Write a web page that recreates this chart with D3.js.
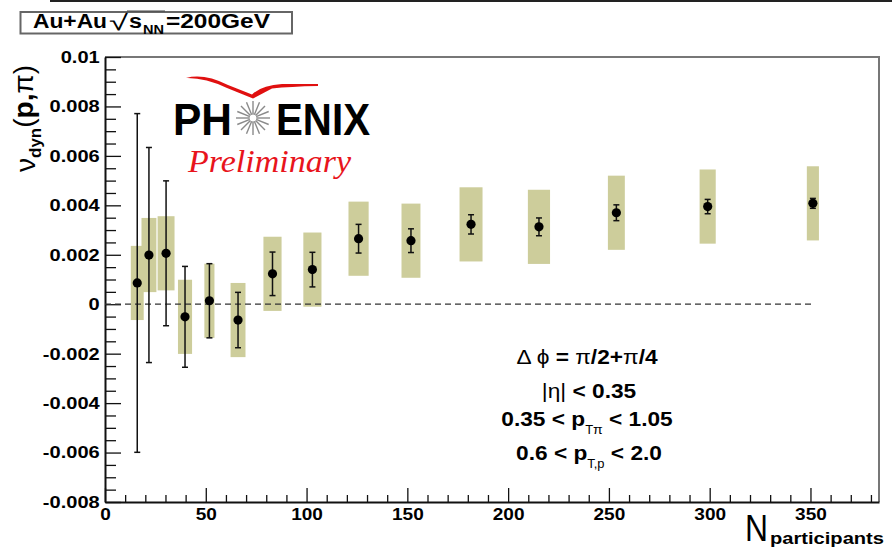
<!DOCTYPE html>
<html>
<head>
<meta charset="utf-8">
<script src="https://cdn.jsdelivr.net/npm/d3@7/dist/d3.min.js"></script>
<style>
  body { margin: 0; background: #fff; }
  svg { display: block; }
</style>
</head>
<body>
<svg id="chart" width="892" height="550"></svg>
<script>
// Centrality bins: mean number of participants and its half-width
const npart    = [16.0, 21.8, 30.3, 39.7, 51.8, 66.0, 83.1, 102.9, 125.8, 151.8, 181.6, 215.3, 253.7, 299.0, 351.2];
const npartErr = [3.2, 3.7, 4.2, 3.5, 2.5, 3.7, 4.5, 4.5, 5.0, 4.7, 5.7, 5.5, 4.2, 4.0, 3.0];
// nu_dyn(p,pi) with statistical and systematic uncertainties
const nuDyn   = [0.00086, 0.00199, 0.00206, -0.00051, 0.00014, -0.00064, 0.00123, 0.00140, 0.00265, 0.00257, 0.00323, 0.00313, 0.00370, 0.00395, 0.00408];
const statErr = [0.00685, 0.00435, 0.00293, 0.00204, 0.00150, 0.00112, 0.00088, 0.00070, 0.00058, 0.00048, 0.00039, 0.00036, 0.00032, 0.00029, 0.00020];
const sysErr  = [0.0015, 0.0015, 0.0015, 0.0015, 0.0015, 0.0015, 0.0015, 0.0015, 0.0015, 0.0015, 0.0015, 0.0015, 0.0015, 0.0015, 0.0015];

// Axis ranges and tick labels
const xDomain = [0, 384];
const yDomain = [-0.008, 0.01];
const xTicks = [0, 50, 100, 150, 200, 250, 300, 350];
const xTickLabels = ["0", "50", "100", "150", "200", "250", "300", "350"];
const yTicks = [-0.008, -0.006, -0.004, -0.002, 0, 0.002, 0.004, 0.006, 0.008, 0.01];
const yTickLabels = ["-0.008", "-0.006", "-0.004", "-0.002", "0", "0.002", "0.004", "0.006", "0.008", "0.01"];
const zeroLineSpan = [0, 352];

const svg = d3.select("#chart");
const SANS = "'Liberation Sans', Arial, Helvetica, sans-serif";
const SERIF = "'Liberation Serif', 'Times New Roman', serif";

const plot = { left: 105, right: 879, top: 57, bottom: 502 };
const x = d3.scaleLinear().domain(xDomain).range([plot.left, plot.right]);
const y = d3.scaleLinear().domain(yDomain).range([plot.bottom, plot.top]);

svg.append("rect").attr("width", 892).attr("height", 550).attr("fill", "#fff");

// outer canvas edge line at the very top
svg.append("line").attr("x1", 50).attr("x2", 892).attr("y1", 1).attr("y2", 1)
  .attr("stroke", "#222").attr("stroke-width", 2);

// frame (top and right edges)
svg.append("path")
  .attr("d", `M${plot.left},${plot.top}H${plot.right}V${plot.bottom}`)
  .attr("fill", "none").attr("stroke", "#777").attr("stroke-width", 2);

// minor ticks
const xMinor = d3.range(0, 381, 10).filter(v => v % 50 !== 0);
const yMinor = d3.range(-16, 21).map(k => k * 0.0005).filter(v => Math.abs(Math.round(v / 0.0005)) % 4 !== 0);

svg.append("g").attr("transform", `translate(0,${plot.bottom})`)
  .call(d3.axisBottom(x).tickValues(xMinor).tickSize(-7).tickFormat(""))
  .call(g => g.select(".domain").remove())
  .call(g => g.selectAll("line").attr("stroke", "#111").attr("stroke-width", 1.3));

svg.append("g").attr("transform", `translate(${plot.left},0)`)
  .call(d3.axisLeft(y).tickValues(yMinor).tickSize(-11).tickFormat(""))
  .call(g => g.select(".domain").remove())
  .call(g => g.selectAll("line").attr("stroke", "#111").attr("stroke-width", 1.3));

// major ticks with labels (labels drawn slightly wide, like the Helvetica bold of the plot)
svg.append("g").attr("transform", `translate(0,${plot.bottom})`)
  .call(d3.axisBottom(x).tickValues(xTicks).tickSize(-14).tickSizeOuter(0).tickPadding(6)
    .tickFormat((d, i) => xTickLabels[i]))
  .call(g => g.select(".domain").attr("stroke", "#111").attr("stroke-width", 2))
  .call(g => g.selectAll("line").attr("stroke", "#111").attr("stroke-width", 1.3))
  .call(g => g.selectAll("text").attr("font-family", SANS).attr("font-weight", "bold")
    .attr("font-size", 17).attr("fill", "#000").attr("transform", "scale(1.12,1)"));

svg.append("g").attr("transform", `translate(${plot.left},0)`)
  .call(d3.axisLeft(y).tickValues(yTicks).tickSize(-16).tickSizeOuter(0).tickPadding(4.5)
    .tickFormat((d, i) => yTickLabels[i]))
  .call(g => g.select(".domain").attr("stroke", "#111").attr("stroke-width", 2))
  .call(g => g.selectAll("line").attr("stroke", "#111").attr("stroke-width", 1.3))
  .call(g => g.selectAll("text").attr("font-family", SANS).attr("font-weight", "bold")
    .attr("font-size", 17).attr("fill", "#000").attr("transform", "scale(1.18,1)"));

// data table
const pts = npart.map((n, i) => ({ n, dn: npartErr[i], v: nuDyn[i], s: statErr[i], sys: sysErr[i] }));

// systematic boxes
svg.append("g").selectAll("rect").data(pts).join("rect")
  .attr("x", d => x(d.n - d.dn))
  .attr("width", d => x(d.n + d.dn) - x(d.n - d.dn))
  .attr("y", d => y(d.v + d.sys))
  .attr("height", d => y(d.v - d.sys) - y(d.v + d.sys))
  .attr("fill", "#cdcd9b");

// reference line at zero
svg.append("line")
  .attr("x1", x(zeroLineSpan[0])).attr("x2", x(zeroLineSpan[1]))
  .attr("y1", y(0)).attr("y2", y(0))
  .attr("stroke", "#333").attr("stroke-width", 1.2).attr("stroke-dasharray", "6,4");

// statistical error bars
const eb = svg.append("g").attr("stroke", "#111").attr("stroke-width", 1.5);
eb.selectAll("line.v").data(pts).join("line").attr("class", "v")
  .attr("x1", d => x(d.n)).attr("x2", d => x(d.n))
  .attr("y1", d => y(d.v - d.s)).attr("y2", d => y(d.v + d.s));
eb.selectAll("line.t").data(pts).join("line").attr("class", "t")
  .attr("x1", d => x(d.n) - 3).attr("x2", d => x(d.n) + 3)
  .attr("y1", d => y(d.v + d.s)).attr("y2", d => y(d.v + d.s));
eb.selectAll("line.b").data(pts).join("line").attr("class", "b")
  .attr("x1", d => x(d.n) - 3).attr("x2", d => x(d.n) + 3)
  .attr("y1", d => y(d.v - d.s)).attr("y2", d => y(d.v - d.s));

// markers
svg.append("g").selectAll("circle").data(pts).join("circle")
  .attr("cx", d => x(d.n)).attr("cy", d => y(d.v)).attr("r", 4.6).attr("fill", "#000");

// y-axis title: nu_dyn(p,pi), reading upward
const yt = svg.append("text").attr("transform", "translate(35,172) rotate(-90)")
  .attr("font-family", SANS).attr("font-size", 28).attr("fill", "#000");
yt.append("tspan").text("ν");
yt.append("tspan").attr("font-size", 17).attr("font-weight", "bold").attr("dy", 6).text("dyn");
yt.append("tspan").attr("dy", -8).text("(");
yt.append("tspan").attr("font-weight", "bold").text("p");
yt.append("tspan").attr("font-weight", "bold").text(",");
yt.append("tspan").text("π");
yt.append("tspan").text(")");

// x-axis title: N_participants
svg.append("text").attr("x", 745).attr("y", 541)
  .attr("font-family", SANS).attr("font-size", 36).attr("fill", "#000")
  .attr("textLength", 23).attr("lengthAdjust", "spacingAndGlyphs").text("N");
svg.append("text").attr("x", 770).attr("y", 544)
  .attr("font-family", SANS).attr("font-weight", "bold").attr("font-size", 16.5).attr("fill", "#000")
  .attr("textLength", 114).attr("lengthAdjust", "spacingAndGlyphs")
  .text("participants");

// collision system label with square root
const lab = svg.append("g");
lab.append("rect").attr("x", 20.5).attr("y", 12).attr("width", 271.5).attr("height", 21.5)
  .attr("fill", "#fff").attr("stroke", "#666").attr("stroke-width", 2);
function piece(px, py, str, size, weight, len) {
  const t = lab.append("text").attr("x", px).attr("y", py)
    .attr("font-family", SANS).attr("font-weight", weight || "bold")
    .attr("font-size", size).attr("fill", "#000").text(str);
  if (len) t.attr("textLength", len).attr("lengthAdjust", "spacingAndGlyphs");
  return px + (len || t.node().getComputedTextLength());
}
let cx = piece(33, 28, "Au+Au", 20, "bold", 74);
const rootStart = cx + 2;
cx = piece(rootStart, 30, "√", 22, "normal", 19);
const barStart = cx;
cx = piece(cx + 1, 28, "s", 20, "bold", 13);
cx = piece(cx + 1, 33.5, "NN", 13, "bold", 21);
lab.append("line").attr("x1", barStart - 1).attr("x2", cx + 1).attr("y1", 11).attr("y2", 11)
  .attr("stroke", "#444").attr("stroke-width", 1);
piece(cx + 2, 28, "=200GeV", 20, "bold", 104);

// annotations, each line stretched slightly in width
const ann = svg.append("g").attr("font-family", SANS).attr("font-weight", "bold")
  .attr("font-size", 21).attr("fill", "#000").attr("text-anchor", "middle");
function annLine(cxp, cyp) {
  return ann.append("g").attr("transform", `translate(${cxp},${cyp}) scale(1.08,1)`).append("text");
}
const a1 = annLine(587, 364);
a1.append("tspan").attr("font-weight", "normal").text("Δ ϕ");
a1.append("tspan").text(" = ");
a1.append("tspan").attr("font-weight", "normal").text("π");
a1.append("tspan").text("/2+");
a1.append("tspan").attr("font-weight", "normal").text("π");
a1.append("tspan").text("/4");
const a2 = annLine(589, 398);
a2.append("tspan").attr("font-weight", "normal").text("|η|");
a2.append("tspan").text(" < 0.35");
const a3 = annLine(587, 426);
a3.append("tspan").text("0.35 < p");
a3.append("tspan").attr("font-size", 12).attr("font-weight", "normal").attr("dy", 8).text("T");
a3.append("tspan").attr("font-size", 13).attr("font-weight", "normal").text("π");
a3.append("tspan").attr("dy", -8).text("  < 1.05");
const a4 = annLine(589, 460);
a4.append("tspan").text("0.6 < p");
a4.append("tspan").attr("font-size", 12).attr("font-weight", "normal").attr("dy", 8).text("T,p");
a4.append("tspan").attr("dy", -8).text(" < 2.0");

// PHENIX logo
const logo = svg.append("g");
logo.append("path")
  .attr("d", "M186,78 Q204,73 228,85 L252,94.5 Q262,85 282,84 L318,84 L318,86 Q290,86.5 272,88.5 L253,98.5 L227,88 Q205,77.5 186,78 Z")
  .attr("fill", "#e01010");
logo.append("text").attr("x", 173).attr("y", 135)
  .attr("font-family", SANS).attr("font-weight", "bold").attr("font-size", 44).attr("fill", "#000")
  .attr("textLength", 59).attr("lengthAdjust", "spacingAndGlyphs").text("PH");
logo.append("text").attr("x", 276).attr("y", 135)
  .attr("font-family", SANS).attr("font-weight", "bold").attr("font-size", 44).attr("fill", "#000")
  .attr("textLength", 94).attr("lengthAdjust", "spacingAndGlyphs").text("ENIX");
const star = logo.append("g").attr("transform", "translate(253,118)");
d3.range(16).forEach(k => {
  const a = k * Math.PI / 8;
  star.append("line")
    .attr("x1", 4 * Math.cos(a)).attr("y1", 4 * Math.sin(a))
    .attr("x2", 17 * Math.cos(a)).attr("y2", 17 * Math.sin(a))
    .attr("stroke", "#8a8a8a").attr("stroke-width", 1.4);
});
star.append("circle").attr("r", 4).attr("fill", "#fff").attr("stroke", "#999").attr("stroke-width", 1);
logo.append("text").attr("x", 188).attr("y", 172)
  .attr("font-family", SERIF).attr("font-style", "italic").attr("font-size", 31).attr("fill", "#e8141c")
  .attr("textLength", 163).attr("lengthAdjust", "spacingAndGlyphs").text("Preliminary");
</script>
</body>
</html>
